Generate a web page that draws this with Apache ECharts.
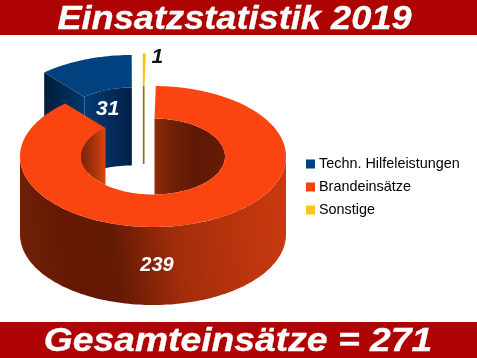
<!DOCTYPE html>
<html><head><meta charset="utf-8">
<style>html,body{margin:0;padding:0;background:#fff}#c{width:477px;height:358px}</style>
<script src="https://cdn.jsdelivr.net/npm/echarts@6/dist/echarts.min.js"></script>
</head><body><div id="c"></div>
<script>
const titleText = 'Einsatzstatistik 2019';
const totalText = 'Gesamteinsätze = 271';
const categories = ['Techn. Hilfeleistungen', 'Brandeinsätze', 'Sonstige'];
const values = [31, 239, 1];
const sliceOrder = [1, 0, 2];
const legendColors = ['#02417f', '#fb3f0d', '#fcc612'];

// drawing constants of the tilted ring
const CX = 153, CY = 156.5, RX = 133, RY = 70.5, IRX = 72, IRY = 38, DEPTH = 78, START = 1.2;
const explode = [[-21, -31], [0, 0], [-10, -32.5]];

const total = values.reduce((a, b) => a + b, 0);
const angles = {};
let acc = START;
sliceOrder.forEach(i => { const s = acc; acc += values[i] / total * 360; angles[i] = [s, acc]; });

const rad = d => d * Math.PI / 180;
const pt = (d, rx, ry, o) => [CX + o[0] + rx * Math.sin(rad(d)), CY + o[1] - ry * Math.cos(rad(d))];
function arc(a, b, rx, ry, o) {
  const n = Math.max(2, Math.ceil(Math.abs(b - a) / 1.5)), out = [];
  for (let k = 0; k <= n; k++) out.push(pt(a + (b - a) * k / n, rx, ry, o));
  return out;
}
const grad = (stops, y0, y1) => ({ type: 'linear', x: 0, y: y0 || 0, x2: 1, y2: y1 || 0, global: false,
  colorStops: stops.map(s => ({ offset: s[0], color: s[1] })) });
const poly = (points, fill) => ({ type: 'polygon', shape: { points }, style: { fill } });
const lower = p => [p[0], p[1] + DEPTH];
function holeWall(a, b, o, clip) {
  const top = arc(a, b, IRX, IRY, o);
  const bottom = top.map(p => {
    let y = p[1] + DEPTH;
    if (clip) {
      const t = (p[0] - CX - o[0]) / IRX;
      y = Math.min(y, CY + o[1] + IRY * Math.sqrt(Math.max(0, 1 - t * t)));
    }
    return [p[0], y];
  });
  return top.concat(bottom.reverse());
}
function text(x, y, s, fill, size) {
  return { type: 'text', z2: 50, style: { x, y, text: s, fill, align: 'center', verticalAlign: 'middle',
    fontFamily: 'Liberation Sans', fontStyle: 'italic', fontWeight: 'bold', fontSize: size } };
}

function renderSlice(i) {
  const [a, b] = angles[i], o = explode[i], ch = [];
  if (i === 1) {
    ch.push(poly(holeWall(a, 90, o, true), grad([[0, '#8f2c0a'], [0.25, '#6f2006'], [0.6, '#5f1804'], [1, '#681b05']])));
    ch.push(poly(holeWall(270, b, o, true), grad([[0, '#7a2408'], [0.55, '#a8330c'], [1, '#e04411']])));
    const front = arc(90, 270, RX, RY, o);
    ch.push(poly(front.concat(front.map(lower).reverse()),
      grad([[0, '#702006'], [0.14, '#641804'], [0.32, '#651a05'], [0.55, '#a22d0b'], [0.85, '#bf370e'], [1, '#cc3a0f']], 0.25, 0)));
  } else {
    const inner = holeWall(a, b, o, false);
    ch.push(poly(inner, i === 0 ? grad([[0, '#023a72'], [0.5, '#022f5e'], [1, '#011f44']]) : '#8c7112'));
    if (i === 0) {
      const p1 = pt(a, RX, RY, o), p2 = pt(a, IRX, IRY, o);
      ch.push(poly([p1, p2, lower(p2), lower(p1)], grad([[0, '#011b3a'], [1, '#02376c']])));
    }
  }
  const outerArc = arc(a, b, RX, RY, o), innerArc = arc(b, a, IRX, IRY, o);
  ch.push(poly(outerArc.concat(innerArc), ['#02417f', '#fb4511', '#f6c512'][i]));
  const mid = (a + b) / 2;
  if (i === 0) { const p = pt(mid, (RX + IRX) / 2 - 14, (RY + IRY) / 2 - 14, o); ch.push(text(p[0] + 7, p[1] + 21, String(values[i]), '#fff', 21)); }
  if (i === 1) { ch.push(text(CX + 4, CY + RY + DEPTH / 2 - 1, String(values[i]), '#fff', 20)); }
  if (i === 2) { const p = pt(mid, RX, RY, o); ch.push(text(p[0] + 13, p[1] + 4, String(values[i]), '#111', 21)); }
  return { type: 'group', children: ch };
}

const bandText = (s, x, y, sx) => ({ type: 'text', z: 5, x, y, scaleX: sx,
  style: { x: 0, y: 0, text: s, fill: '#fff', stroke: '#fff', lineWidth: 0.3, align: 'center', verticalAlign: 'middle',
    fontFamily: 'Liberation Sans', fontStyle: 'italic', fontWeight: 'bold', fontSize: 34 } });

const chart = echarts.init(document.getElementById('c'), null, { renderer: 'canvas' });
chart.setOption({
  animation: false,
  color: legendColors,
  backgroundColor: '#fff',
  graphic: [
    { type: 'rect', z: -1, shape: { x: 0, y: 0, width: 477, height: 35 }, style: { fill: '#af0404' } },
    { type: 'rect', z: -1, shape: { x: 0, y: 322, width: 477, height: 36 }, style: { fill: '#af0404' } },
    bandText(titleText, 234.5, 19.5, 1.065),
    bandText(totalText, 238, 342, 1.096)
  ],
  legend: {
    orient: 'vertical', left: 301, top: 151, icon: 'rect', itemWidth: 9, itemHeight: 9, itemGap: 7,
    data: categories, selectedMode: false,
    textStyle: { fontFamily: 'Liberation Sans', fontSize: 14.4, color: '#000', padding: [0, 0, 0, -1], lineHeight: 16 }
  },
  series: categories.map((name, i) => ({
    type: 'custom', name, coordinateSystem: 'none', data: [values[i]], silent: true,
    renderItem: () => renderSlice(i)
  }))
});
</script></body></html>
